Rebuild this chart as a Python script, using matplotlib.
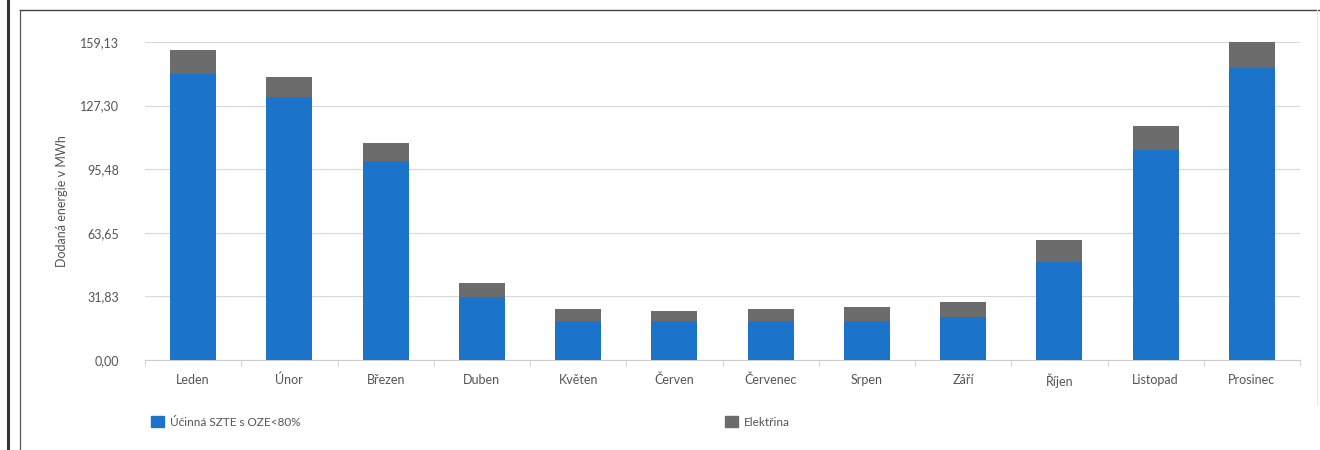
import matplotlib.pyplot as plt
import numpy as np
from matplotlib.lines import Line2D
from matplotlib.patches import Patch

plt.rcParams["font.family"] = ["Lato", "DejaVu Sans"]

months = ["Leden", "Únor", "Březen", "Duben", "Květen", "Červen",
          "Červenec", "Srpen", "Září", "Říjen", "Listopad", "Prosinec"]
szte = [143.3, 131.6, 99.8, 31.7, 19.3, 19.3, 19.3, 19.3, 21.3, 49.2, 104.9, 146.1]
totals = [155.0, 141.6, 108.7, 38.4, 25.5, 24.7, 25.5, 26.4, 29.2, 60.1, 116.9, 159.13]
elektrina = [t - s for t, s in zip(totals, szte)]
yticks = [0.0, 31.83, 63.65, 95.48, 127.30, 159.13]
series_names = ["Účinná SZTE s OZE<80%", "Elektřina"]

BLUE = "#1b74c9"
GREY = "#6c6c6c"
TXT = "#555555"

fig = plt.figure(figsize=(13.2, 4.5), dpi=100)
ax = fig.add_axes([145 / 1320, 1 - 360 / 450, 1155 / 1320, 318 / 450])

x = np.arange(len(months))
ax.bar(x, szte, width=0.48, color=BLUE, zorder=3)
ax.bar(x, elektrina, width=0.48, bottom=szte, color=GREY, zorder=3)

ax.set_xlim(-0.5, len(months) - 0.5)
ax.set_ylim(0, yticks[-1])
ax.set_yticks(yticks)
ax.set_yticklabels([f"{v:.2f}".replace(".", ",") for v in yticks], fontsize=9, color=TXT)
ax.yaxis.grid(True, color="#d9d9d9", linewidth=0.8, zorder=0)
ax.tick_params(axis="y", length=0, pad=18.5)

ax.set_xticks(x)
ax.set_xticklabels(months, fontsize=9, color=TXT)
ax.set_xticks(np.arange(-0.5, len(months)), minor=True)
ax.tick_params(axis="x", which="major", length=0, pad=10)
ax.tick_params(axis="x", which="minor", length=4, color="#cccccc")

for side in ["top", "right", "left"]:
    ax.spines[side].set_visible(False)
ax.spines["bottom"].set_color("#cccccc")

ax.set_ylabel("Dodaná energie v MWh", fontsize=9, color=TXT, labelpad=8.5)

# legend entries sit far apart, so use two single-entry legends
leg_kw = dict(frameon=False, fontsize=8.5, handlelength=1.1, handleheight=1.1,
              handletextpad=0.5, labelcolor=TXT, loc="center left",
              bbox_transform=fig.transFigure, borderaxespad=0)
leg1 = ax.legend(handles=[Patch(color=BLUE, label=series_names[0])],
                 bbox_to_anchor=(146 / 1320, 1 - 422 / 450), **leg_kw)
ax.add_artist(leg1)
ax.legend(handles=[Patch(color=GREY, label=series_names[1])],
          bbox_to_anchor=(720 / 1320, 1 - 422 / 450), **leg_kw)

# scanned document frame
fig.add_artist(Line2D([8 / 1320, 8 / 1320], [0, 1], color="#333333", linewidth=2.2))
fig.add_artist(Line2D([20 / 1320, 20 / 1320], [0, 1 - 10 / 450], color="#555555", linewidth=0.9))
fig.add_artist(Line2D([20 / 1320, 1], [1 - 10 / 450, 1 - 10 / 450], color="#444444", linewidth=1.0))
fig.add_artist(Line2D([1317 / 1320, 1317 / 1320], [0.1, 1 - 10 / 450], color="#e6e6e6", linewidth=0.8))

fig.savefig("out.png", dpi=100)
